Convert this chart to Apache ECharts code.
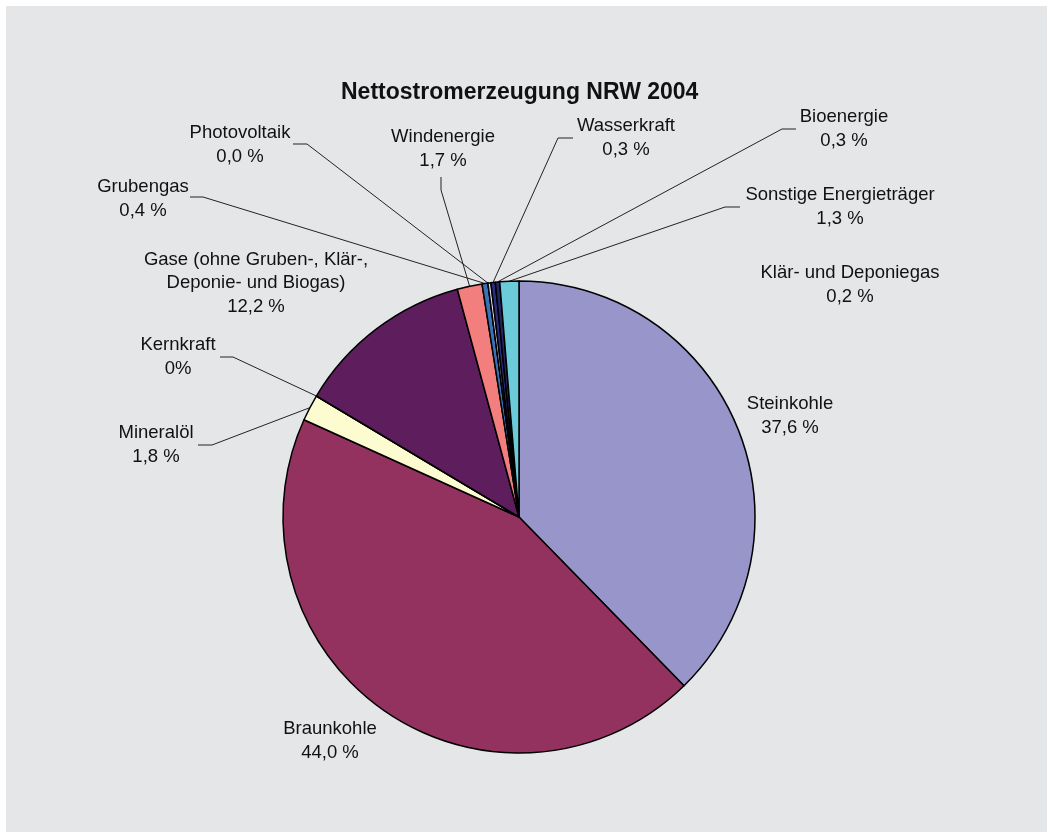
<!DOCTYPE html>
<html>
<head>
<meta charset="utf-8">
<script src="https://cdn.jsdelivr.net/npm/echarts@6/dist/echarts.min.js"></script>
<style>
  html, body { margin: 0; padding: 0; background: #ffffff; }
  #frame { position: absolute; left: 6px; top: 6px; width: 1041px; height: 826px; background: #E5E6E8; }
  #chart { position: absolute; left: 0; top: 0; width: 1053px; height: 838px; }
</style>
</head>
<body>
<div id="frame"></div>
<div id="chart"></div>
<script>
// ---- data ----
const categories = [
  'Steinkohle', 'Braunkohle', 'Mineralöl', 'Kernkraft',
  'Gase (ohne Gruben-, Klär-,\nDeponie- und Biogas)',
  'Windenergie', 'Grubengas', 'Photovoltaik', 'Klär- und Deponiegas',
  'Wasserkraft', 'Bioenergie', 'Sonstige Energieträger'
];
const values = [37.6, 44.0, 1.8, 0, 12.2, 1.7, 0.4, 0.0, 0.2, 0.3, 0.3, 1.3];
const valueTexts = ['37,6 %', '44,0 %', '1,8 %', '0%', '12,2 %', '1,7 %', '0,4 %', '0,0 %', '0,2 %', '0,3 %', '0,3 %', '1,3 %'];

// ---- styles ----
const colors = ['#9795C9', '#93325F', '#FDFBD0', '#CCCCCC', '#5E1E5E', '#F27E7E',
                '#3A72B8', '#CCCCCC', '#D8D8F0', '#2B2E7A', '#252566', '#6CCBD8'];
// label centre positions (pixels) and leader-line stubs (pixels)
const labelPos = [
  [790, 416], [330, 741], [156, 445], [178, 357], [256, 283], [443, 149],
  [143, 199], [240, 145], [850, 285], [626, 138], [844, 129], [840, 207]
];
const stubs = [
  null, null,
  [[198, 445], [212, 445]],
  [[220, 357], [233, 357]],
  null,
  [[441, 177], [441, 190]],
  [[190, 197], [203, 197]],
  [[293, 144], [307, 144]],
  null,
  [[573, 138], [558, 138]],
  [[796, 129], [782, 129]],
  [[740, 207], [725, 207]]
];

const chart = echarts.init(document.getElementById('chart'));
const data = categories.map((c, i) => ({
  name: c,
  value: values[i],
  itemStyle: { color: colors[i] },
  labelLine: { show: !!stubs[i] }
}));

chart.setOption({
  backgroundColor: 'transparent',
  animation: false,
  title: {
    text: 'Nettostromerzeugung NRW 2004',
    left: 336,
    top: 76,
    textStyle: { fontFamily: 'Liberation Sans', fontWeight: 'bold', fontSize: 23, color: '#111' }
  },
  series: [{
    type: 'pie',
    center: [519, 517],
    radius: 236,
    startAngle: 90,
    clockwise: true,
    avoidLabelOverlap: false,
    data: data,
    itemStyle: { borderColor: '#000', borderWidth: 1.5 },
    label: {
      show: true,
      position: 'outside',
      formatter: p => p.name + '\n' + valueTexts[p.dataIndex],
      fontFamily: 'Liberation Sans',
      fontSize: 18.5,
      lineHeight: 23.5,
      color: '#111',
      align: 'center'
    },
    labelLine: {
      show: true,
      length: 10,
      length2: 10,
      lineStyle: { color: '#222', width: 1 }
    },
    emphasis: { disabled: true },
    labelLayout: function (params) {
      const i = params.dataIndex;
      const p = labelPos[i];
      const out = { x: p[0], y: p[1], align: 'center', verticalAlign: 'middle' };
      if (stubs[i] && params.labelLinePoints) {
        const edge = params.labelLinePoints[0];
        out.labelLinePoints = [edge, stubs[i][1], stubs[i][0]];
      }
      return out;
    }
  }]
});
</script>
</body>
</html>
